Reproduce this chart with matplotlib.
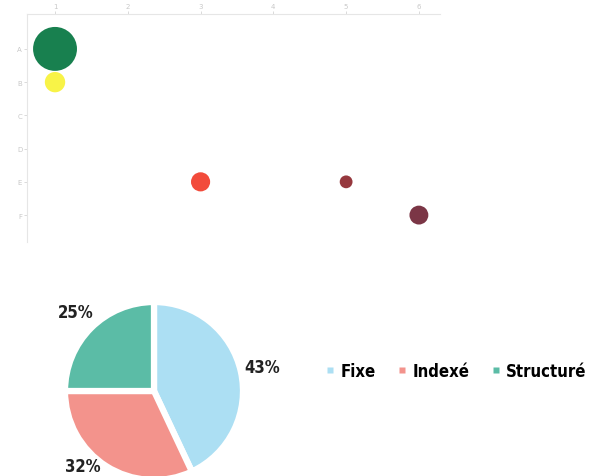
import matplotlib
matplotlib.use("Agg")
import matplotlib.pyplot as plt
from matplotlib.lines import Line2D

# bubble chart data
x_ticks = [1, 2, 3, 4, 5, 6]
y_labels = ['A', 'B', 'C', 'D', 'E', 'F']
bubble_x = [1, 1, 3, 5, 6]
bubble_y = ['A', 'B', 'E', 'E', 'F']
bubble_size = [1000, 215, 190, 85, 185]
bubble_colors = ['#18804f', '#f8f347', '#f24b3b', '#96383e', '#7b3646']

# pie data
pie_labels = ['Fixe', 'Indexé', 'Structuré']
pie_values = [43, 32, 25]
pie_colors = ['#acdff3', '#f3938c', '#5bbca6']

bold_font = {'family': 'DejaVu Sans', 'stretch': 'condensed', 'weight': 'bold', 'size': 12}

fig = plt.figure(figsize=(6.07, 4.77), dpi=100)

# 1. bubble chart
ax1 = fig.add_axes([27 / 607, 1 - 243 / 477, 413 / 607, 228 / 477])
y_pos = [y_labels.index(v) for v in bubble_y]
ax1.scatter(bubble_x, y_pos, s=bubble_size, c=bubble_colors, edgecolors='none', zorder=3)
ax1.set_xlim(0.615, 6.29)
ax1.set_ylim(5.81, -1.05)
ax1.xaxis.tick_top()
ax1.set_xticks(x_ticks)
ax1.set_xticklabels([str(t) for t in x_ticks])
ax1.set_yticks(range(len(y_labels)))
ax1.set_yticklabels(y_labels)
ax1.tick_params(colors='#d4d4d4', labelcolor='#c8c8c8', labelsize=5, length=2, width=0.6, pad=1.5)
for side in ['right', 'bottom']:
    ax1.spines[side].set_visible(False)
for side in ['top', 'left']:
    ax1.spines[side].set_color('#e6e6e6')
    ax1.spines[side].set_linewidth(0.8)

# 2. pie chart
ax2 = fig.add_axes([40 / 607, 0, 250 / 607, 182 / 477])
wedges, texts, autotexts = ax2.pie(
    pie_values, colors=pie_colors, startangle=90, counterclock=False,
    autopct='%1.0f%%', pctdistance=1.25,
    wedgeprops={'edgecolor': 'white', 'linewidth': 4.5},
    textprops={'color': '#222222', 'fontproperties': None})
for t in autotexts:
    t.set(family='DejaVu Sans', stretch='condensed', weight='bold', size=12)
# 32% label sits higher than the radial spot so it stays inside the picture
autotexts[1].set_position((-0.80, -0.84))
ax2.set_aspect('auto')
ax2.set_xlim(-114 / 89, 136 / 89)
ax2.set_ylim(-85 / 89, 97 / 89)
ax2.axis('off')

# legend to the right of the pie
handles = [Line2D([0], [0], marker='s', linestyle='', markersize=5,
                  markerfacecolor=c, markeredgecolor='none') for c in pie_colors]
fig.legend(handles, pie_labels, loc='center', bbox_to_anchor=(455 / 607, 1 - 372 / 477),
           ncol=3, frameon=False, handletextpad=0.2, columnspacing=1.2, handlelength=0.8,
           prop=bold_font)

fig.savefig('out.png', dpi=100)
